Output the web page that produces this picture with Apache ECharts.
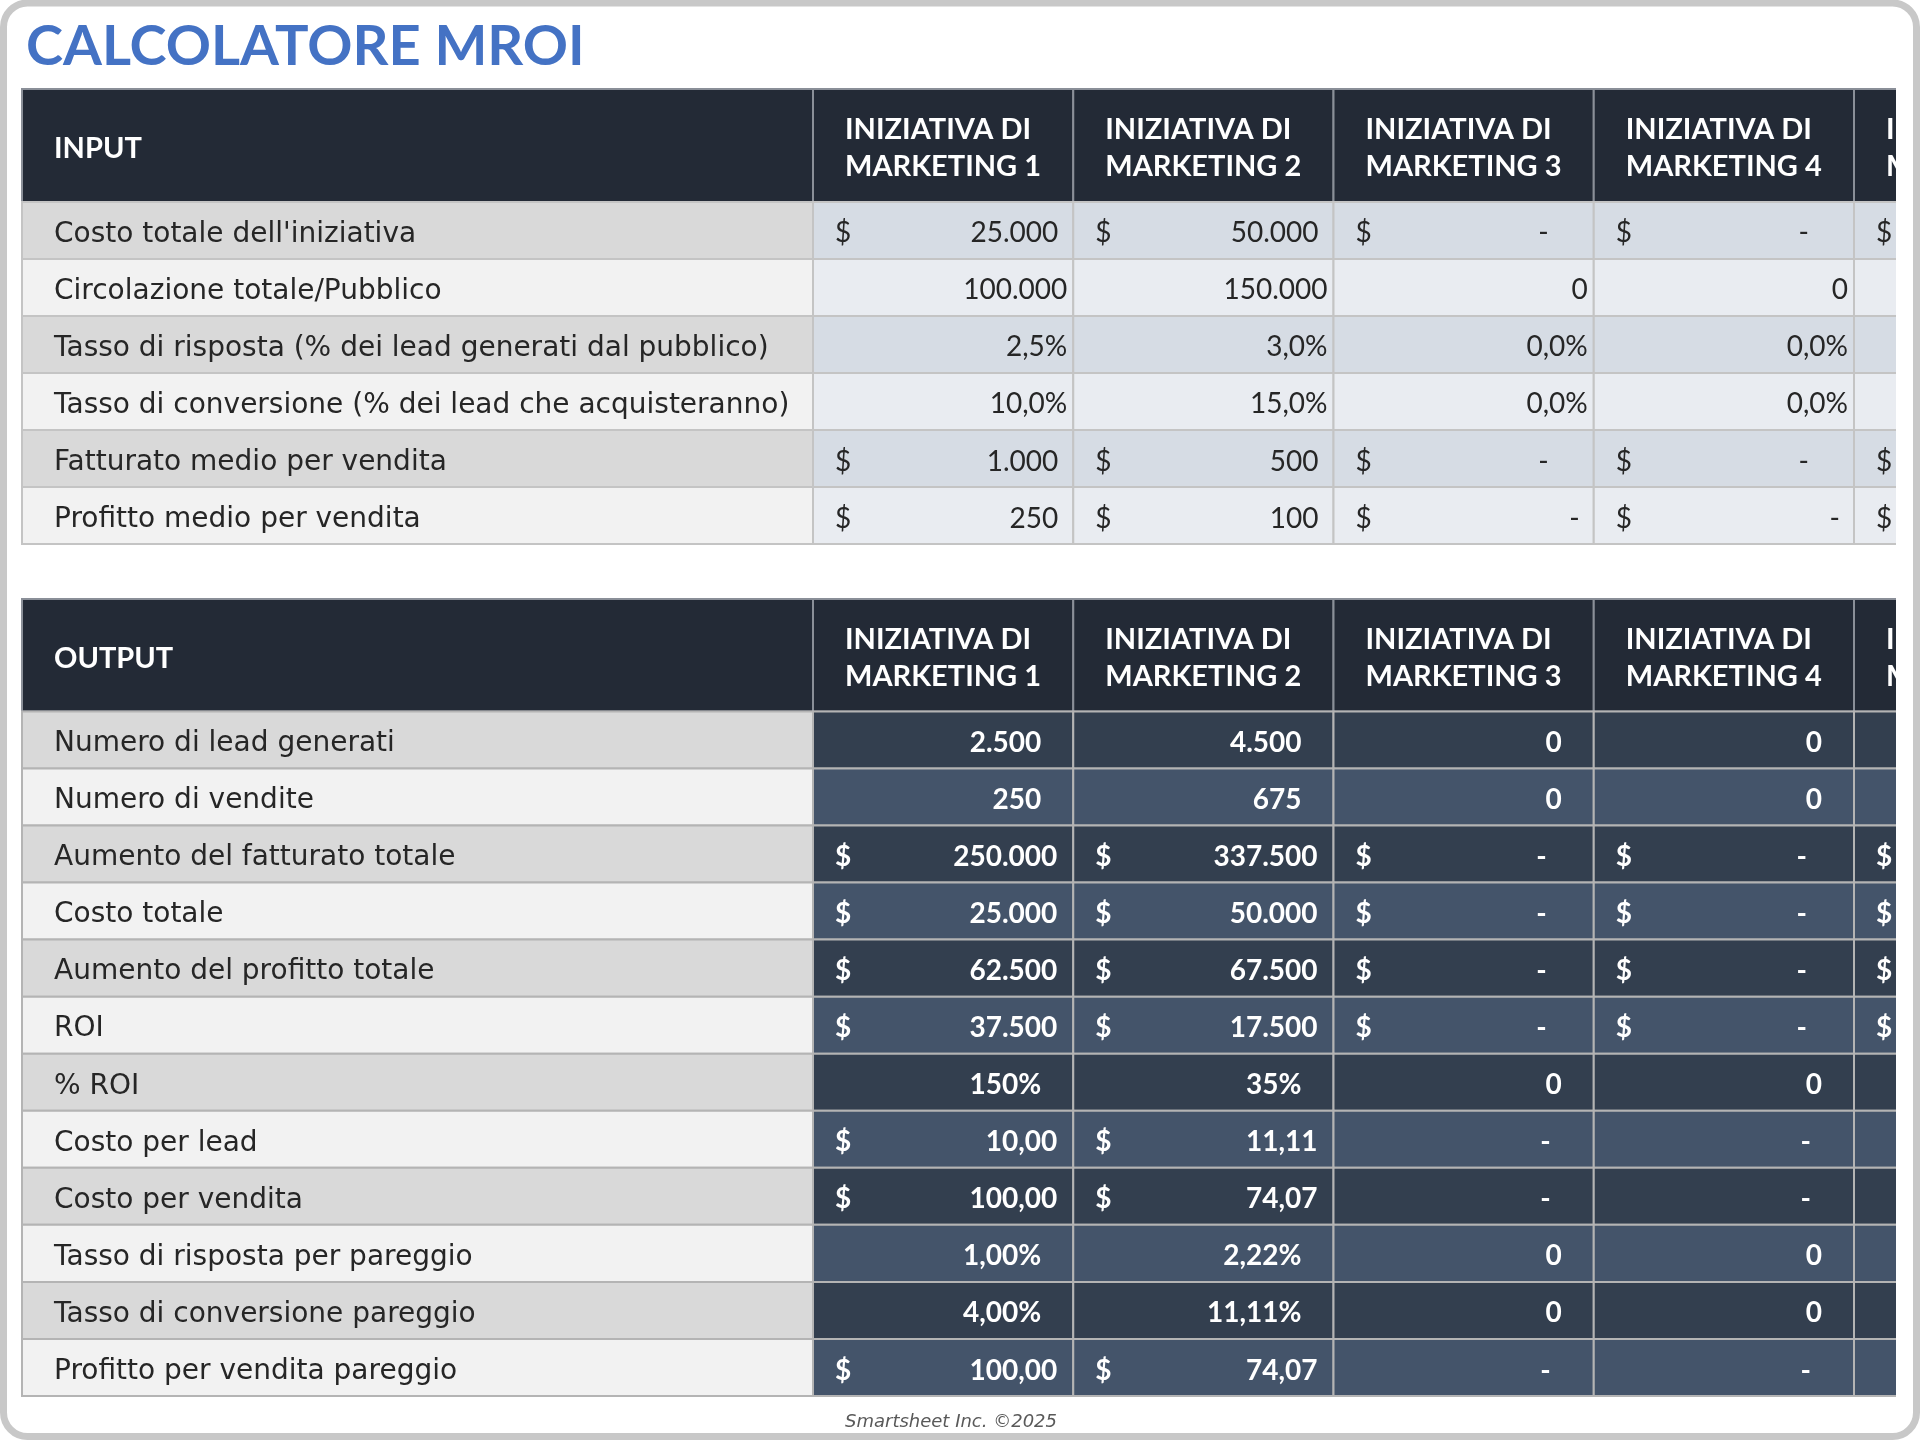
<!DOCTYPE html>
<html><head><meta charset="utf-8">
<script src="https://cdn.jsdelivr.net/npm/echarts@6/dist/echarts.min.js"></script>
<style>html,body{margin:0;padding:0;background:#fff}#c{width:1920px;height:1440px}</style>
</head><body><div id="c"></div>
<script>
// ---------- DATA ----------
const titleText = 'CALCOLATORE MROI';
const footerText = 'Smartsheet Inc. ©2025';
const initiatives = ['INIZIATIVA DI\nMARKETING 1', 'INIZIATIVA DI\nMARKETING 2', 'INIZIATIVA DI\nMARKETING 3', 'INIZIATIVA DI\nMARKETING 4', 'INIZIATIVA DI\nMARKETING 5'];

const inputHeader = 'INPUT';
const inputLabels = [
  "Costo totale dell'iniziativa",
  'Circolazione totale/Pubblico',
  'Tasso di risposta (% dei lead generati dal pubblico)',
  'Tasso di conversione (% dei lead che acquisteranno)',
  'Fatturato medio per vendita',
  'Profitto medio per vendita'
];
const inputFormats = ['cur', 'int', 'pct1', 'pct1', 'cur', 'curR'];
const costoTotaleIniziativa = [25000, 50000, 0, 0, 0];
const circolazioneTotale   = [100000, 150000, 0, 0, 0];
const tassoRisposta        = [0.025, 0.03, 0, 0, 0];
const tassoConversione     = [0.10, 0.15, 0, 0, 0];
const fatturatoMedio       = [1000, 500, 0, 0, 0];
const profittoMedio        = [250, 100, 0, 0, 0];
const inputValues = [costoTotaleIniziativa, circolazioneTotale, tassoRisposta, tassoConversione, fatturatoMedio, profittoMedio];

const outputHeader = 'OUTPUT';
const outputLabels = [
  'Numero di lead generati',
  'Numero di vendite',
  'Aumento del fatturato totale',
  'Costo totale',
  'Aumento del profitto totale',
  'ROI',
  '% ROI',
  'Costo per lead',
  'Costo per vendita',
  'Tasso di risposta per pareggio',
  'Tasso di conversione pareggio',
  'Profitto per vendita pareggio'
];
const outputFormats = ['int', 'int', 'cur', 'cur', 'cur', 'cur', 'pct0', 'cur2', 'cur2', 'pct2', 'pct2', 'cur2'];
const leadGenerati          = [2500, 4500, 0, 0, 0];
const numeroVendite         = [250, 675, 0, 0, 0];
const aumentoFatturato      = [250000, 337500, 0, 0, 0];
const costoTotale           = [25000, 50000, 0, 0, 0];
const aumentoProfitto       = [62500, 67500, 0, 0, 0];
const roi                   = [37500, 17500, 0, 0, 0];
const roiPercent            = [1.50, 0.35, 0, 0, 0];
const costoPerLead          = [10.00, 11.11, null, null, null];
const costoPerVendita       = [100.00, 74.07, null, null, null];
const tassoRispostaPareggio = [0.0100, 0.0222, 0, 0, 0];
const tassoConvPareggio     = [0.0400, 0.1111, 0, 0, 0];
const profittoPareggio      = [100.00, 74.07, null, null, null];
const outputValues = [leadGenerati, numeroVendite, aumentoFatturato, costoTotale, aumentoProfitto, roi, roiPercent, costoPerLead, costoPerVendita, tassoRispostaPareggio, tassoConvPareggio, profittoPareggio];

// ---------- FORMATTING ----------
function grp(n) {
  return Math.round(Math.abs(n)).toString().replace(/\B(?=(\d{3})+(?!\d))/g, '.');
}
function dec(n, d) {
  const p = Math.abs(n).toFixed(d).split('.');
  return grp(+p[0]) + ',' + p[1];
}
function fmt(v, f) {
  switch (f) {
    case 'cur': case 'curR':
      return v ? {dollar: true, text: grp(v), kind: 'num'} : {dollar: true, text: '-', kind: 'dash'};
    case 'cur2':
      return (v === null || v === undefined) ? {dollar: false, text: '-', kind: 'dash'} : {dollar: true, text: dec(v, 2), kind: 'num'};
    case 'int':
      return {dollar: false, text: grp(v), kind: 'plain'};
    case 'pct1':
      return {dollar: false, text: dec(v * 100, 1) + '%', kind: 'plain'};
    case 'pct0':
      return {dollar: false, text: v ? grp(v * 100) + '%' : '0', kind: 'plain'};
    case 'pct2':
      return {dollar: false, text: v ? dec(v * 100, 2) + '%' : '0', kind: 'plain'};
  }
}

// ---------- LAYOUT / STYLE ----------
const FONT = 'Lato, "Noto Sans", sans-serif';
const LABEL_FONT = '"DejaVu Sans", sans-serif';
const COLW = 260.25;
const TABLE_LEFT = 22, TABLE_RIGHT = 1896;
const LABEL_UNITS = 791 / COLW;                       // label column width in value-column units
const X_MAX = (TABLE_RIGHT - TABLE_LEFT) / COLW - LABEL_UNITS; // visible part of the value columns

const tables = [
  {
    header: inputHeader, labels: inputLabels, values: inputValues, formats: inputFormats,
    top: 89, bottom: 544, headUnits: 1.98,
    labelFill: ['#d9d9d9', '#f2f2f2'], valueFill: ['#d6dce4', '#e9ecf1'],
    valueColor: '#262626', valueWeight: 'normal',
    plainPad: 6, numPad: 15, dashPad: {cur: 45, curR: 14, cur2: 45},
    lineColor: '#c4c4c4'
  },
  {
    header: outputHeader, labels: outputLabels, values: outputValues, formats: outputFormats,
    top: 599, bottom: 1396, headUnits: 1.97,
    labelFill: ['#d9d9d9', '#f2f2f2'], valueFill: ['#333f4f', '#44546a'],
    valueColor: '#ffffff', valueWeight: 'bold',
    plainPad: 32, numPad: 16, dashPad: {cur: 47, curR: 47, cur2: 43},
    lineColor: '#b4b4b4'
  }
];

const grids = [], xAxes = [], yAxes = [], series = [];
tables.forEach((t, gi) => {
  grids.push({left: TABLE_LEFT, width: TABLE_RIGHT - TABLE_LEFT, top: t.top, height: t.bottom - t.top, show: false});
  xAxes.push({type: 'value', gridIndex: gi, min: -LABEL_UNITS, max: X_MAX, show: false});
  yAxes.push({type: 'value', gridIndex: gi, min: -t.headUnits, max: t.labels.length, inverse: true, show: false});

  const data = [];
  data.push([-1, -1]);
  initiatives.forEach((_, c) => data.push([c, -1]));
  t.labels.forEach((_, r) => {
    data.push([-1, r]);
    initiatives.forEach((_, c) => data.push([c, r]));
  });

  series.push({
    type: 'custom', xAxisIndex: gi, yAxisIndex: gi, clip: false, silent: true,
    data: data,
    encode: {x: 0, y: 1},
    renderItem: function (params, api) {
      const c = api.value(0), r = api.value(1);
      const x0 = c < 0 ? -LABEL_UNITS : c, x1 = c < 0 ? 0 : c + 1;
      const y0 = r < 0 ? -t.headUnits : r, y1 = r < 0 ? 0 : r + 1;
      const p0 = api.coord([x0, y0]), p1 = api.coord([x1, y1]);
      const x = p0[0], y = Math.min(p0[1], p1[1]);
      const w = p1[0] - p0[0], h = Math.abs(p1[1] - p0[1]);
      const cy = y + h / 2;
      const children = [];
      if (r < 0) {
        children.push({type: 'rect', shape: {x: x, y: y, width: w, height: h},
          style: {fill: '#232a36', stroke: '#8a8f98', lineWidth: 2}});
        children.push({type: 'text', style: {
          text: c < 0 ? t.header : initiatives[c], x: x + 32, y: cy + 3,
          align: 'left', verticalAlign: 'middle', fill: '#ffffff',
          font: 'bold 29px ' + FONT, lineHeight: 37}});
      } else if (c < 0) {
        children.push({type: 'rect', shape: {x: x, y: y, width: w, height: h},
          style: {fill: t.labelFill[r % 2], stroke: t.lineColor, lineWidth: 2}});
        children.push({type: 'text', style: {
          text: t.labels[r], x: x + 32, y: cy + 4, align: 'left', verticalAlign: 'middle',
          fill: '#262626', font: '28px ' + LABEL_FONT}});
      } else {
        children.push({type: 'rect', shape: {x: x, y: y, width: w, height: h},
          style: {fill: t.valueFill[r % 2], stroke: t.lineColor, lineWidth: 2}});
        const f = t.formats[r];
        const o = fmt(t.values[r][c], f);
        const font = t.valueWeight + ' 28px ' + FONT;
        if (o.dollar) {
          children.push({type: 'text', style: {text: '$', x: x + 22, y: cy + 3, align: 'left',
            verticalAlign: 'middle', fill: t.valueColor, font: font}});
        }
        let tx;
        if (o.kind === 'plain') tx = x + w - t.plainPad;
        else if (o.kind === 'num') tx = x + w - t.numPad;
        else tx = x + w - t.dashPad[f];
        children.push({type: 'text', style: {text: o.text, x: tx, y: cy + 3, align: 'right',
          verticalAlign: 'middle', fill: t.valueColor, font: font}});
      }
      return {type: 'group', children: children};
    }
  });
});

const chart = echarts.init(document.getElementById('c'), null, {renderer: 'canvas'});
chart.setOption({
  backgroundColor: '#ffffff',
  animation: false,
  grid: grids, xAxis: xAxes, yAxis: yAxes, series: series,
  graphic: {elements: [
    {type: 'text', z: 50, style: {text: titleText, x: 26, y: 47, verticalAlign: 'middle',
      fill: '#4472c4', font: 'bold 56px ' + FONT}},
    {type: 'rect', z: 90, shape: {x: TABLE_RIGHT, y: 60, width: 1920 - TABLE_RIGHT, height: 1360}, style: {fill: '#ffffff'}},
    {type: 'rect', z: 95, shape: {x: 3.5, y: 3, width: 1913, height: 1433.5, r: 24},
      style: {fill: 'none', stroke: '#c8c8c8', lineWidth: 7}},
    {type: 'text', z: 50, style: {text: footerText, x: 951, y: 1422, align: 'center', verticalAlign: 'middle',
      fill: '#595959', font: 'italic 18px "DejaVu Sans", sans-serif'}}
  ]}
});
</script>
</body></html>
